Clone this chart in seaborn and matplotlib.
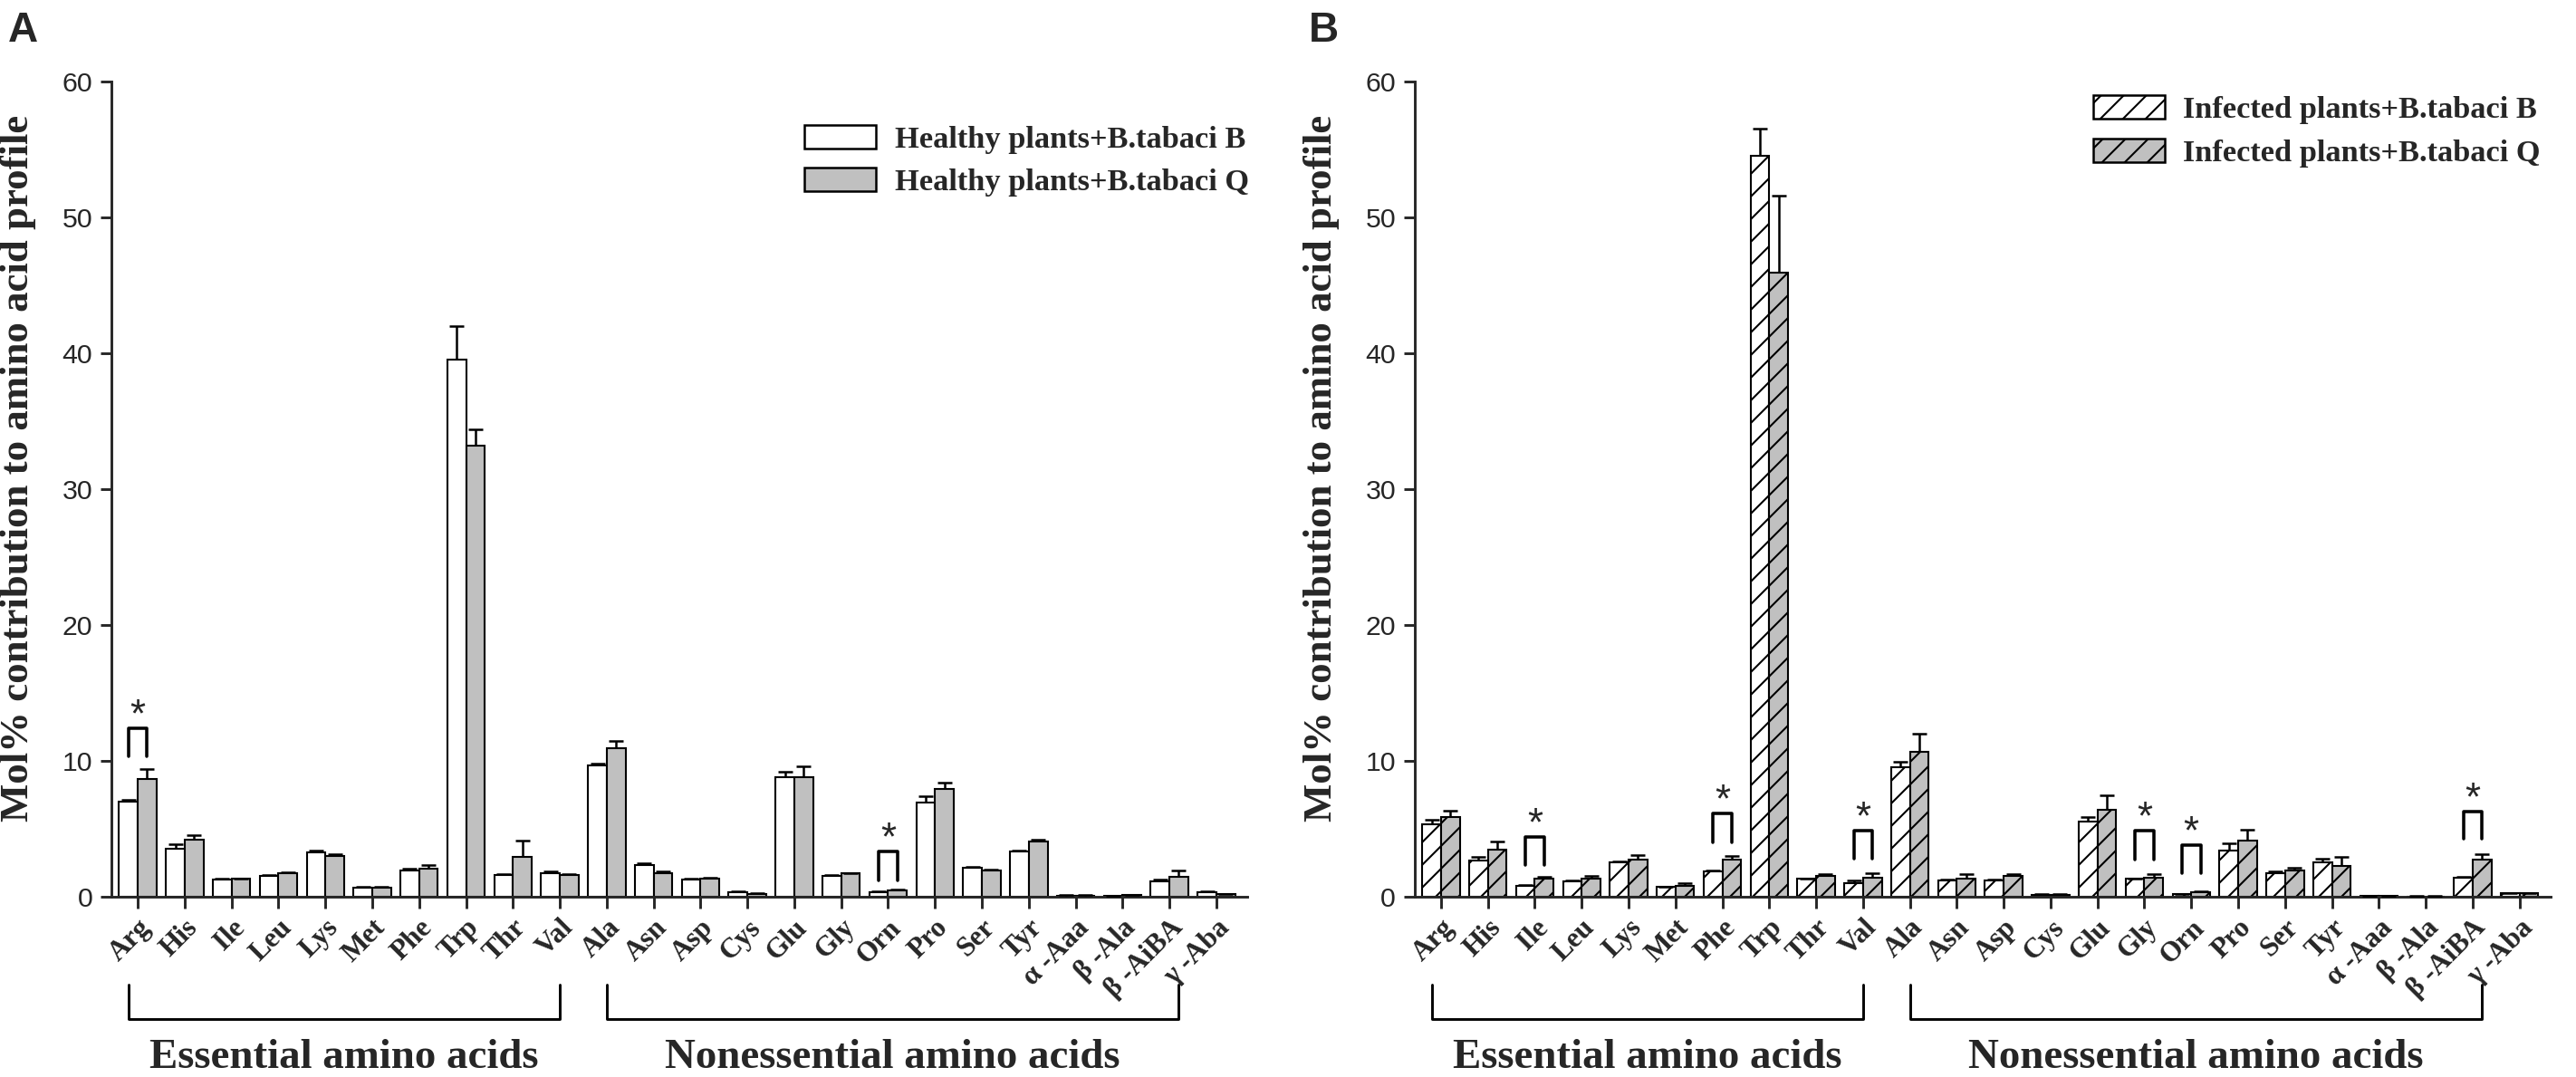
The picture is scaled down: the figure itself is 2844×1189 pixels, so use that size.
import matplotlib
matplotlib.use("Agg")
import matplotlib.pyplot as plt
import matplotlib.transforms as mtransforms
from matplotlib.patches import Patch
import numpy as np
import pandas as pd
import seaborn as sns

# ---------------------------------------------------------
# data
# ---------------------------------------------------------
amino = ["Arg", "His", "Ile", "Leu", "Lys", "Met", "Phe", "Trp", "Thr", "Val",
         "Ala", "Asn", "Asp", "Cys", "Glu", "Gly", "Orn", "Pro", "Ser", "Tyr",
         "α -Aaa", "β -Ala", "β -AiBA", "γ -Aba"]

healthy_b = [7.0, 3.5, 1.25, 1.55, 3.25, 0.67, 1.95, 39.5, 1.6, 1.75,
             9.65, 2.3, 1.25, 0.35, 8.8, 1.55, 0.35, 6.9, 2.1, 3.35,
             0.08, 0.05, 1.15, 0.33]
healthy_b_err = [0.15, 0.35, 0.1, 0.05, 0.15, 0.05, 0.1, 2.5, 0.05, 0.1,
                 0.15, 0.15, 0.05, 0.05, 0.4, 0.05, 0.05, 0.5, 0.1, 0.05,
                 0.02, 0.02, 0.1, 0.05]
healthy_q = [8.65, 4.2, 1.3, 1.7, 3.0, 0.65, 2.05, 33.2, 2.9, 1.6,
             10.95, 1.75, 1.3, 0.22, 8.8, 1.7, 0.45, 7.9, 1.95, 4.05,
             0.08, 0.1, 1.45, 0.18]
healthy_q_err = [0.75, 0.35, 0.05, 0.1, 0.1, 0.1, 0.25, 1.2, 1.2, 0.05,
                 0.5, 0.1, 0.1, 0.03, 0.8, 0.05, 0.05, 0.5, 0.05, 0.15,
                 0.02, 0.03, 0.5, 0.03]

infected_b = [5.35, 2.65, 0.8, 1.15, 2.55, 0.7, 1.85, 54.5, 1.3, 1.0,
              9.55, 1.2, 1.2, 0.15, 5.55, 1.3, 0.18, 3.4, 1.75, 2.5,
              0.06, 0.03, 1.4, 0.25]
infected_b_err = [0.3, 0.3, 0.05, 0.05, 0.05, 0.05, 0.05, 2.0, 0.05, 0.2,
                  0.35, 0.05, 0.05, 0.03, 0.3, 0.05, 0.03, 0.5, 0.1, 0.3,
                  0.02, 0.01, 0.05, 0.03]
infected_q = [5.85, 3.45, 1.35, 1.3, 2.7, 0.8, 2.75, 45.9, 1.55, 1.4,
              10.65, 1.3, 1.55, 0.15, 6.4, 1.4, 0.36, 4.1, 1.9, 2.25,
              0.05, 0.03, 2.7, 0.25]
infected_q_err = [0.5, 0.6, 0.1, 0.25, 0.35, 0.2, 0.25, 5.7, 0.1, 0.3,
                  1.35, 0.35, 0.1, 0.03, 1.05, 0.25, 0.05, 0.8, 0.25, 0.65,
                  0.02, 0.01, 0.4, 0.03]

labels_a = ["Healthy plants+B.tabaci B", "Healthy plants+B.tabaci Q"]
labels_b = ["Infected plants+B.tabaci B", "Infected plants+B.tabaci Q"]

# significance brackets: (amino acid, leg bottom, bracket top)
sig_a = [("Arg", 10.3, 12.4), ("Orn", 1.2, 3.3)]
sig_b = [("Ile", 2.3, 4.4), ("Phe", 4.0, 6.1), ("Val", 2.8, 4.85),
         ("Gly", 2.75, 4.85), ("Orn", 1.75, 3.8), ("β -AiBA", 4.25, 6.25)]

groups = ["Essential amino acids", "Nonessential amino acids"]

# ---------------------------------------------------------
# style
# ---------------------------------------------------------
sns.set_style("ticks")
plt.rcParams["font.family"] = ["Liberation Serif", "DejaVu Serif"]
plt.rcParams["hatch.linewidth"] = 1.0
plt.rcParams["axes.linewidth"] = 1.4

fig = plt.figure(figsize=(18.96, 7.9267), dpi=150)
ax_a = fig.add_axes([0.0433, 0.1674, 0.4409, 0.757])
ax_b = fig.add_axes([0.5492, 0.1674, 0.4409, 0.757])


def draw_panel(ax, vals_b, err_b, vals_q, err_q, labels, hatch, sig,
               leg_xy, letter, letter_x):
    df = pd.DataFrame({
        "aa": amino * 2,
        "value": vals_b + vals_q,
        "group": [labels[0]] * len(amino) + [labels[1]] * len(amino),
    })
    sns.barplot(data=df, x="aa", y="value", hue="group", order=amino,
                hue_order=labels, palette=["white", "#c0c0c0"],
                edgecolor="black", linewidth=1.0, width=0.8,
                errorbar=None, legend=False, ax=ax)

    # error bars (upper only)
    for cont, err in zip(ax.containers, [err_b, err_q]):
        xs = [p.get_x() + p.get_width() / 2 for p in cont.patches]
        hs = [p.get_height() for p in cont.patches]
        for p in cont.patches:
            if hatch:
                p.set_hatch(hatch)
        _, caps, _ = ax.errorbar(xs, hs, yerr=[np.zeros(len(err)), err],
                                 fmt="none", ecolor="black", elinewidth=1.2,
                                 capsize=4, capthick=1.2, zorder=3)
        caps[0].set_visible(False)

    # significance brackets
    for name, low, top in sig:
        i = amino.index(name)
        ax.plot([i - 0.2, i - 0.2, i + 0.2, i + 0.2], [low, top, top, low],
                color="black", lw=1.7, zorder=4)
        ax.text(i, top + 0.9, "*", ha="center", va="center", fontsize=21,
                family=["Liberation Sans", "DejaVu Sans"])

    ax.set_xlim(-0.56, 23.66)
    ax.set_ylim(0, 60)
    ax.set_yticks(range(0, 61, 10))
    ax.set_xlabel("")
    ax.set_ylabel("Mol% contribution to amino acid profile",
                  fontsize=21.5, fontweight="bold")
    ax.yaxis.set_label_coords(-0.066, 0.525)
    sns.despine(ax=ax)
    ax.tick_params(axis="both", direction="out", length=6, width=1.4)
    ax.tick_params(axis="y", pad=4)
    for t in ax.get_yticklabels():
        t.set_family(["Liberation Sans", "DejaVu Sans"])
        t.set_fontsize(14.5)
    plt.setp(ax.get_xticklabels(), rotation=45, ha="right", va="top",
             rotation_mode="anchor", fontsize=15, fontweight="bold")

    # group brackets below the tick labels
    trans = mtransforms.blended_transform_factory(ax.transData, ax.transAxes)
    spans = [(amino.index("Arg") - 0.2, amino.index("Val")),
             (amino.index("Ala"), amino.index("γ -Aba") - 0.8)]
    for name, (x0, x1) in zip(groups, spans):
        ax.plot([x0, x0, x1, x1], [-0.108, -0.15, -0.15, -0.108],
                color="black", lw=1.4, transform=trans, clip_on=False)
        ax.text((x0 + x1) / 2, -0.198, name, transform=trans, ha="center",
                va="center", fontsize=22.5, fontweight="bold")

    handles = [Patch(facecolor="white", edgecolor="black", hatch=hatch, lw=1.2),
               Patch(facecolor="#c0c0c0", edgecolor="black", hatch=hatch, lw=1.2)]
    ax.legend(handles, labels, loc="upper left", bbox_to_anchor=leg_xy,
              frameon=False, borderpad=0, borderaxespad=0,
              handlelength=2.3, handleheight=0.8, labelspacing=0.45,
              handletextpad=0.6, prop={"weight": "bold", "size": 16.5})

    fig.text(letter_x, 0.99, letter, ha="left", va="top", fontsize=22,
             fontweight="bold", family=["Liberation Sans", "DejaVu Sans"])


draw_panel(ax_a, healthy_b, healthy_b_err, healthy_q, healthy_q_err,
           labels_a, None, sig_a, (0.61, 0.947), "A", 0.003)
draw_panel(ax_b, infected_b, infected_b_err, infected_q, infected_q_err,
           labels_b, "//", sig_b, (0.597, 0.983), "B", 0.508)

fig.savefig("out.png", dpi=150)
plt.close(fig)
